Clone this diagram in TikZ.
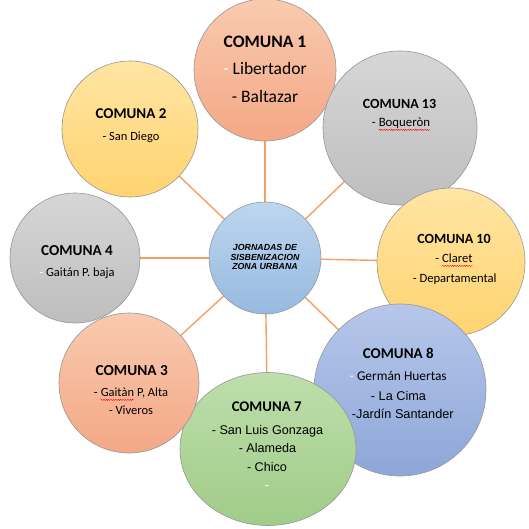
\documentclass[tikz,border=0pt]{standalone}
\usepackage{fontspec}
\setmainfont{Carlito}
\newfontfamily\arialf{Liberation Sans}
\usetikzlibrary{shapes.geometric,decorations.pathmorphing}
\definecolor{spokec}{RGB}{244,160,100}
\definecolor{edgec}{RGB}{150,150,150}
\definecolor{salT}{RGB}{249,202,175}\definecolor{salB}{RGB}{244,168,134}
\definecolor{yelT}{RGB}{255,229,163}\definecolor{yelB}{RGB}{255,211,112}
\definecolor{gryT}{RGB}{214,214,214}\definecolor{gryB}{RGB}{190,190,190}
\definecolor{bluT}{RGB}{182,199,234}\definecolor{bluB}{RGB}{142,166,216}
\definecolor{grnT}{RGB}{190,222,172}\definecolor{grnB}{RGB}{160,204,136}
\definecolor{ctrT}{RGB}{190,214,239}\definecolor{ctrB}{RGB}{150,186,224}
\newcommand\fs[1]{\fontsize{#1}{#1}\selectfont}
\newcommand\wavy[1]{\tikz[baseline=(wv.base)]{\node[inner sep=0pt,outer sep=0pt,anchor=base] (wv) {#1};\draw[red, line width=0.4pt, decorate, decoration={snake, amplitude=0.6pt, segment length=2.4pt}] ([yshift=-3.2pt]wv.base west) -- ([yshift=-3.2pt]wv.base east);}}
\tikzset{
  bubble/.style={circle, draw=edgec, line width=0.6pt, inner sep=0pt},
  salmon/.style={top color=salT, bottom color=salB},
  yellow/.style={top color=yelT, bottom color=yelB},
  grey/.style={top color=gryT, bottom color=gryB},
  blueb/.style={top color=bluT, bottom color=bluB},
  greenb/.style={top color=grnT, bottom color=grnB},
  centerb/.style={top color=ctrT, bottom color=ctrB},
  spoke/.style={draw=spokec, line width=1.4pt},
  txt/.style={inner sep=0pt, anchor=base, text=black},
  head/.style={txt, font=\bfseries},
  ctxt/.style={txt, font=\arialf\bfseries\itshape\fs{8.8}},
}
\begin{document}
\begin{tikzpicture}[x=1pt,y=-1pt]
\useasboundingbox[fill=white] (0,0) rectangle (529,529);
% centres
\coordinate (p0) at (265,258);
\coordinate (p1) at (265,70);
\coordinate (p2) at (130,129);
\coordinate (p13) at (400,128);
\coordinate (p4) at (75,258);
\coordinate (p10) at (451,262);
\coordinate (p3) at (129,383);
\coordinate (p7) at (268,449);
\coordinate (p8) at (400,390);
% spokes
\foreach \p in {p1,p2,p13,p4,p10,p3,p7,p8} \draw[spoke] (p0) -- (\p);
% bubbles
\node[bubble, salmon, minimum size=142pt] (c1) at (p1) {};
\node[bubble, grey, minimum size=154pt] (c13) at (p13) {};
\node[bubble, yellow, minimum size=148pt] (c10) at (p10) {};
\node[bubble, blueb, minimum size=172pt] (c8) at (p8) {};
\node[bubble, greenb, ellipse, minimum width=176pt, minimum height=153pt] (c7) at (p7) {};
\node[bubble, salmon, minimum size=140pt] (c3) at (p3) {};
\node[bubble, grey, minimum size=130pt] (c4) at (p4) {};
\node[bubble, yellow, minimum size=136pt] (c2) at (p2) {};
\node[bubble, centerb, minimum size=112pt] (c0) at (p0) {};
% centre text
\node[ctxt] (t0a) at (265,250.7) {JORNADAS DE};
\node[ctxt] (t0b) at (265,260) {SISBENIZACION};
\node[ctxt] (t0c) at (265,269.3) {ZONA URBANA};
% comuna 1
\node[head, font=\bfseries\fs{17.5}] (t1h) at (265,48) {COMUNA 1};
\node[txt, font=\fs{17.5}] (t1a) at (265,75) {\textcolor{white}{-} Libertador};
\node[txt, font=\fs{17.5}] (t1b) at (265,102.7) {- Baltazar};
% comuna 2
\node[head, font=\bfseries\fs{15}] (t2h) at (131,119) {COMUNA 2};
\node[txt, font=\fs{12.5}] (t2a) at (131,141) {- San Diego};
% comuna 13
\node[head, font=\bfseries\fs{14}] (t13h) at (399.5,108.3) {COMUNA 13};
\node[txt, font=\fs{12.8}] (t13a) at (401,126.7) {- \wavy{Boqueròn}};
% comuna 4
\node[head, font=\bfseries\fs{15.2}] (t4h) at (77,255.7) {COMUNA 4};
\node[txt, font=\fs{12.5}] (t4a) at (77,276) {\textcolor{white}{-} Gaitán P. baja};
% comuna 10
\node[head, font=\bfseries\fs{14}] (t10h) at (454,243.3) {COMUNA 10};
\node[txt, font=\fs{12.6}] (t10a) at (454,262.7) {- \wavy{Claret}};
\node[txt, font=\fs{12.6}] (t10b) at (454.7,282.3) {- Departamental};
% comuna 3
\node[head, font=\bfseries\fs{15.3}] (t3h) at (131.7,375) {COMUNA 3};
\node[txt, font=\fs{12.5}] (t3a) at (131,396.7) {- \wavy{Gaitàn} P, Alta};
\node[txt, font=\fs{12.5}] (t3b) at (131,414.3) {- Viveros};
% comuna 7
\node[head, font=\bfseries\fs{14.8}] (t7h) at (266.7,411.7) {COMUNA 7};
\node[txt, font=\arialf\fs{12.6}] (t7a) at (267.5,434) {- San Luis Gonzaga};
\node[txt, font=\arialf\fs{12.6}] (t7b) at (267.5,452.3) {- Alameda};
\node[txt, font=\arialf\fs{12.6}] (t7c) at (267,471) {- Chico};
\node[txt, font=\arialf\fs{12.6}, text=white] (t7d) at (267,489) {-};
% comuna 8
\node[head, font=\bfseries\fs{15}] (t8h) at (398.3,358.3) {COMUNA 8};
\node[txt, font=\fs{13.4}] (t8a) at (398.3,380) {\textcolor{white}{-} Germán Huertas};
\node[txt, font=\arialf\fs{12.7}] (t8b) at (398.5,400) {- La Cima};
\node[txt, font=\arialf\fs{12.7}] (t8c) at (402.8,418.3) {-Jardín Santander};
\end{tikzpicture}
\end{document}
